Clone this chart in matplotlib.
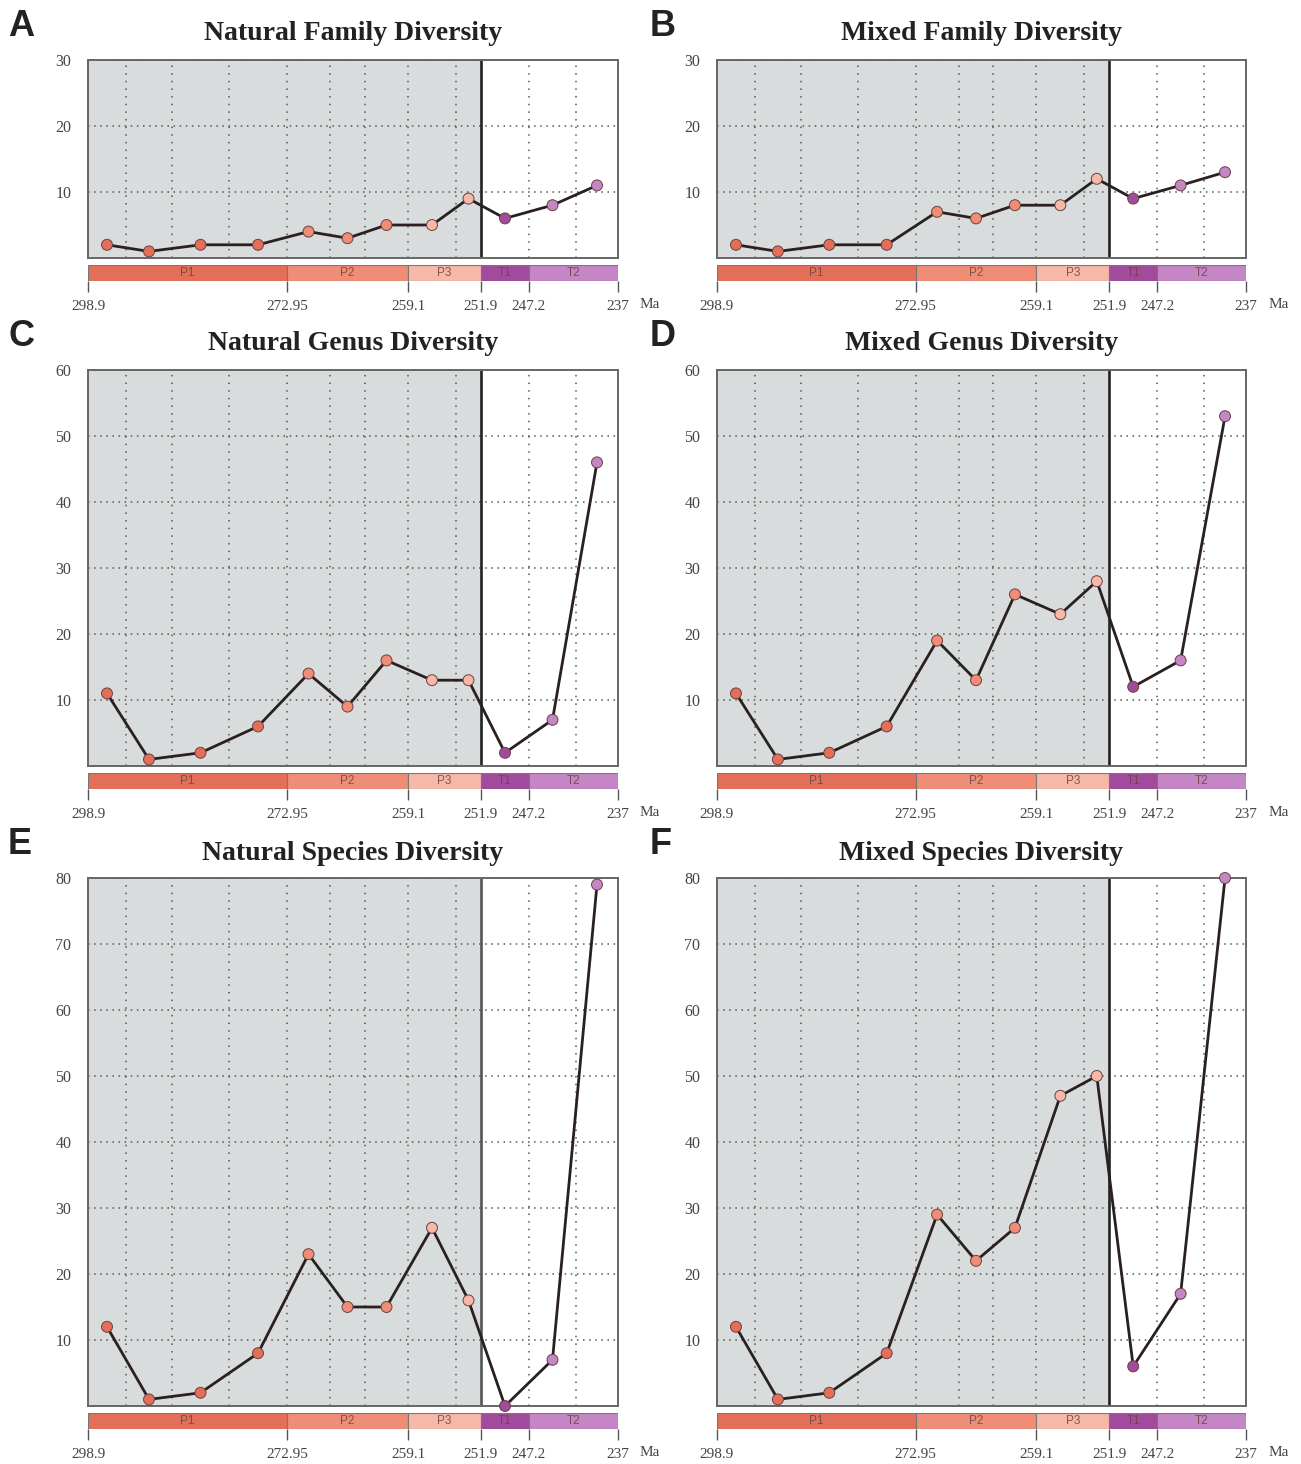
import numpy as np
import matplotlib
matplotlib.use("Agg")
import matplotlib.pyplot as plt

# ---------------- data ----------------
# stage boundaries (Ma) and their display positions (relative axis units)
stage_bounds = [298.9, 293.52, 290.1, 283.5, 272.95, 266.9, 264.28, 259.1, 254.14, 251.9, 247.2, 242.0, 237.0]
display_pos = [0, 38, 84, 141, 199, 242, 277, 320, 368, 393, 441, 488, 530]
# stage (point) ages = stage midpoints
stage_ages = [(a + b) / 2 for a, b in zip(stage_bounds[:-1], stage_bounds[1:])]
stage_group = ["P1", "P1", "P1", "P1", "P2", "P2", "P2", "P3", "P3", "T1", "T2", "T2"]

period_names = ["P1", "P2", "P3", "T1", "T2"]
period_bounds = [298.9, 272.95, 259.1, 251.9, 247.2, 237.0]
period_colors = ["#e46f59", "#ef8d76", "#f7b8a8", "#a24a9c", "#c486c4"]
tick_labels = ["298.9", "272.95", "259.1", "251.9", "247.2", "237"]

natural_family = [2, 1, 2, 2, 4, 3, 5, 5, 9, 6, 8, 11]
mixed_family = [2, 1, 2, 2, 7, 6, 8, 8, 12, 9, 11, 13]
natural_genus = [11, 1, 2, 6, 14, 9, 16, 13, 13, 2, 7, 46]
mixed_genus = [11, 1, 2, 6, 19, 13, 26, 23, 28, 12, 16, 53]
natural_species = [12, 1, 2, 8, 23, 15, 15, 27, 16, 0, 7, 79]
mixed_species = [12, 1, 2, 8, 29, 22, 27, 47, 50, 6, 17, 80]

titles = ["Natural Family Diversity", "Mixed Family Diversity",
          "Natural Genus Diversity", "Mixed Genus Diversity",
          "Natural Species Diversity", "Mixed Species Diversity"]
letters = ["A", "B", "C", "D", "E", "F"]
series = [natural_family, mixed_family, natural_genus, mixed_genus, natural_species, mixed_species]
ymax = [30, 30, 60, 60, 80, 80]

# ---------------- scale (piecewise linear, increasing in age) ----------------
ages_asc = np.array(stage_bounds[::-1], dtype=float)
pos_asc = display_pos[-1] - np.array(display_pos[::-1], dtype=float)


def fwd(a):
    return np.interp(np.asarray(a, dtype=float), ages_asc, pos_asc)


def inv(p):
    return np.interp(np.asarray(p, dtype=float), pos_asc, ages_asc)


def mid_age(a, b):
    return float(inv((fwd(a) + fwd(b)) / 2))


color_of = dict(zip(period_names, period_colors))

W, H = 1301, 1464
fig = plt.figure(figsize=(W / 100, H / 100), dpi=100)
fig.patch.set_facecolor("white")

serif = ["Liberation Serif", "DejaVu Serif"]
sans = ["Liberation Sans", "DejaVu Sans"]

rows = [(60, 258, 265, 281, 34, 26), (370, 766, 773, 789, 344, 336), (878, 1406, 1413, 1429, 853, 845)]
cols = [(88, 618, 8, 650), (717, 1246, 650, 1279)]


def pxbox(l, r, t, b):
    return [l / W, 1 - b / H, (r - l) / W, (b - t) / H]


for i in range(6):
    r, c = divmod(i, 2)
    at, ab, bt, bb, ty, ly = rows[r]
    l, rr, lx, max_x = cols[c]
    ax = fig.add_axes(pxbox(l, rr, at, ab))
    ax.set_xscale("function", functions=(fwd, inv))
    ax.set_xlim(298.9, 237.0)
    ax.set_ylim(0, ymax[i])
    ax.set_facecolor("white")
    ax.axvspan(298.9, 251.9, color="#d9dcdc", zorder=0, lw=0)
    for sb in stage_bounds[1:-1]:
        if sb == 251.9:
            continue
        ax.axvline(sb, color="#555555", ls=(0, (1, 4)), lw=1.1, zorder=1)
    ax.set_yticks(np.arange(10, ymax[i] + 1, 10))
    ax.set_xticks([])
    ax.yaxis.grid(True, color="#555555", ls=(0, (1, 3)), lw=1.1, zorder=1)
    ax.set_axisbelow(True)
    ax.tick_params(axis="y", length=0, pad=12, labelsize=11.5, labelcolor="#444444")
    for lab in ax.get_yticklabels():
        lab.set_fontfamily(serif)
    for s in ax.spines.values():
        s.set_color("#666666")
        s.set_linewidth(1.4)
    ax.axvline(251.9, color="#222222" if i != 4 else "#555555", lw=1.9, zorder=2)
    ax.plot(stage_ages, series[i], color="#2a2020", lw=2.0, zorder=3, clip_on=False)
    mcols = [color_of[g] for g in stage_group]
    ax.scatter(stage_ages, series[i], s=62, c=mcols, edgecolors="#6a4040",
               linewidths=0.7, zorder=4, clip_on=False)

    fig.text((l + rr) / 2 / W, 1 - ty / H, titles[i], ha="center", va="center",
             fontsize=20, fontweight="bold", family=serif, color="#222222")
    fig.text(lx / W, 1 - ly / H, letters[i], ha="left", va="center",
             fontsize=26, fontweight="bold", family=sans, color="#222222")

    # time-scale bar
    bx = fig.add_axes(pxbox(l, rr, bt, bb))
    bx.set_xscale("function", functions=(fwd, inv))
    bx.set_xlim(298.9, 237.0)
    bx.set_ylim(0, 1)
    for k, name in enumerate(period_names):
        a, b = period_bounds[k], period_bounds[k + 1]
        bx.axvspan(a, b, facecolor=period_colors[k], edgecolor="#777777", lw=0.8)
        bx.text(mid_age(a, b), 0.5, name, ha="center", va="center", fontsize=8.5,
                family=sans, color="#6a4545", alpha=0.85)
    for s in bx.spines.values():
        s.set_visible(False)
    bx.set_yticks([])
    bx.set_xticks(period_bounds)
    bx.set_xticklabels(tick_labels)
    bx.tick_params(axis="x", length=8, width=1.0, color="#555555", pad=6,
                   labelsize=11, labelcolor="#444444")
    for lab in bx.get_xticklabels():
        lab.set_fontfamily(serif)
    fig.text(max_x / W, 1 - (bb + 24) / H, "Ma", ha="center", va="center",
             fontsize=11, family=serif, color="#444444")

fig.savefig("out.png", dpi=100)
